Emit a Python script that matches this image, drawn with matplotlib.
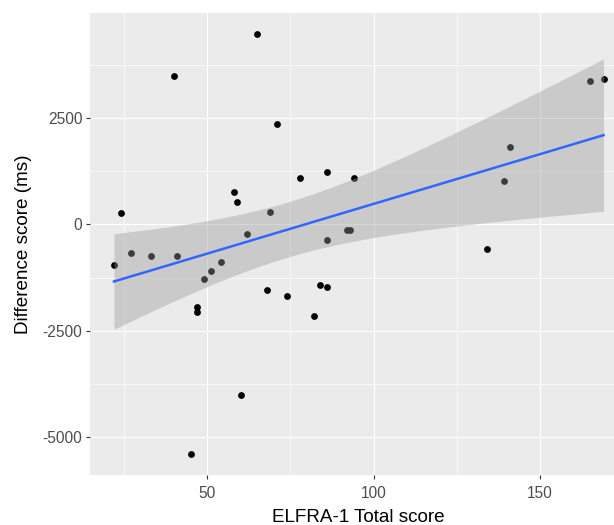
import numpy as np
import matplotlib
matplotlib.use("Agg")
import matplotlib.pyplot as plt
from matplotlib.ticker import FixedLocator

plt.rcParams['font.family'] = ['Liberation Sans', 'DejaVu Sans']
plt.rcParams['axes.unicode_minus'] = False

# ELFRA-1 total score vs difference score (ms)
elfra = [22, 24, 27, 33, 40, 41, 45, 47, 47, 49, 51, 54, 58, 59, 60, 62, 65, 68,
         69, 71, 74, 78, 82, 84, 86, 86, 86, 92, 93, 94, 134, 139, 141, 165, 169]
diff = [-945, 274, -668, -750, 3478, -750, -5394, -1940, -2064, -1273, -1102, -884,
        750, 516, -4003, -218, 4472, -1548, 298, 2352, -1672, 1086, -2158, -1424,
        1236, -368, -1461, -124, -124, 1086, -579, 1025, 1813, 3361, 3417]

x_major = [50, 100, 150]
x_minor = [25, 75, 125, 175]
y_major = [-5000, -2500, 0, 2500]
y_minor = [-6250, -3750, -1250, 1250, 3750]

x = np.array(elfra, dtype=float)
y = np.array(diff, dtype=float)

# linear fit with 95% confidence band (like geom_smooth(method="lm"))
n = len(x)
b1, b0 = np.polyfit(x, y, 1)
resid = y - (b0 + b1 * x)
s = np.sqrt(np.sum(resid ** 2) / (n - 2))
xs = np.linspace(x.min(), x.max(), 80)
ys = b0 + b1 * xs
t_val = 2.0345  # t(0.975, df=33)
se = s * np.sqrt(1 / n + (xs - x.mean()) ** 2 / np.sum((x - x.mean()) ** 2))

W, H = 614, 525
fig = plt.figure(figsize=(W / 100, H / 100), dpi=100)
ax = fig.add_axes([89.5 / W, 50 / H, 538.5 / W, 462 / H])
ax.set_facecolor('#EBEBEB')
for sp in ax.spines.values():
    sp.set_visible(False)

ax.scatter(x, y, s=24, color='black', linewidths=0, zorder=3)
ax.fill_between(xs, ys - t_val * se, ys + t_val * se, color='#999999', alpha=0.4,
                linewidth=0, zorder=4)
ax.plot(xs, ys, color='#3366FF', linewidth=1.8, zorder=5)

xr = x.max() - x.min()
yr = y.max() - y.min()
ax.set_xlim(x.min() - 0.05 * xr, x.max() + 0.05 * xr)
ax.set_ylim(y.min() - 0.05 * yr, y.max() + 0.05 * yr)

ax.xaxis.set_major_locator(FixedLocator(x_major))
ax.xaxis.set_minor_locator(FixedLocator(x_minor))
ax.yaxis.set_major_locator(FixedLocator(y_major))
ax.yaxis.set_minor_locator(FixedLocator(y_minor))
ax.grid(which='major', color='white', linewidth=0.85, zorder=1)
ax.grid(which='minor', color='white', linewidth=0.45, zorder=1)
ax.set_axisbelow(True)

ax.tick_params(which='major', length=3.2, width=0.8, color='#333333',
               labelcolor='#4D4D4D', labelsize=11.2, pad=2)
ax.tick_params(axis='x', which='major', pad=5)
ax.tick_params(which='minor', length=0)

ax.set_xlabel('ELFRA-1 Total score', fontsize=13.6, color='black', labelpad=5.5)
ax.set_ylabel('Difference score (ms)', fontsize=13.6, color='black', labelpad=7.5)

fig.savefig('out.png', dpi=100)
